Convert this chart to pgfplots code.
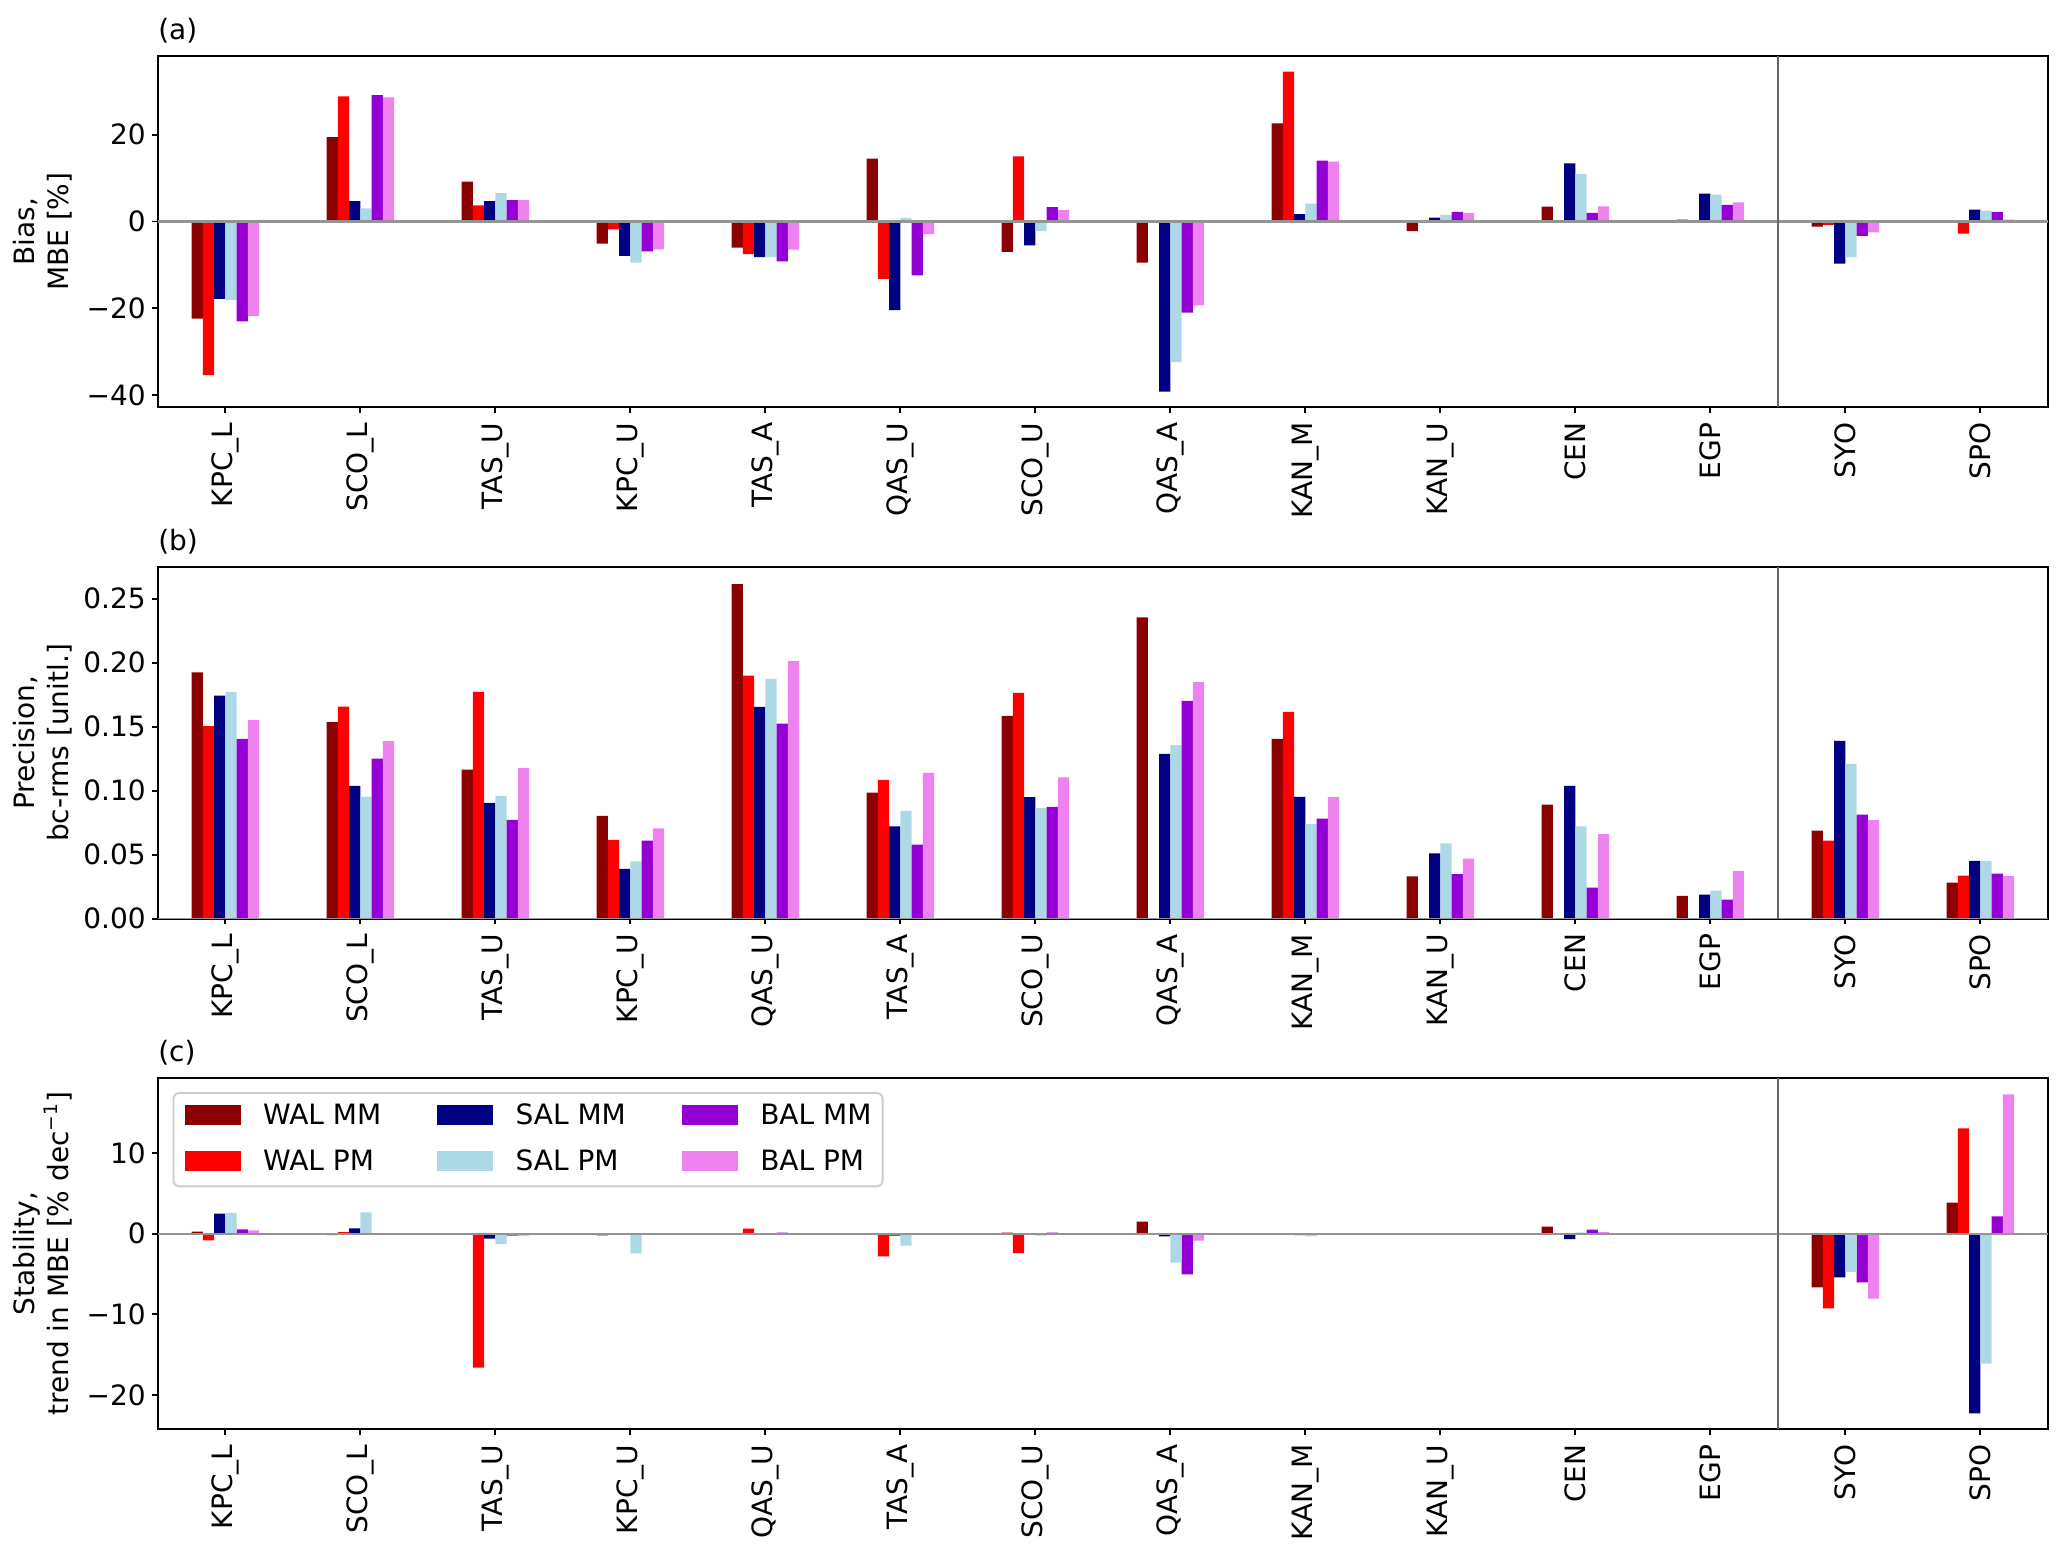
\documentclass[border=0pt,12pt]{standalone}
\usepackage{fontspec}
\setmainfont{DejaVu Sans}
\usepackage{pgfplots}
\pgfplotsset{compat=1.18}
\definecolor{wmm}{HTML}{8B0000}
\definecolor{wpm}{HTML}{FF0000}
\definecolor{smm}{HTML}{000080}
\definecolor{spm}{HTML}{ADD8E6}
\definecolor{bmm}{HTML}{9400D3}
\definecolor{bpm}{HTML}{EE82EE}
\pgfplotsset{
  panel/.style={
    scale only axis, width=810pt, height=150.56pt,
    xmin=-0.5, xmax=13.5, enlargelimits=false,
    xtick={0,...,13},
    xticklabel style={rotate=90, anchor=east},
    yticklabel style={inner xsep=2.6pt},
    tick align=outside, xtick pos=bottom, ytick pos=left,
    major tick length=2.4pt,
    tick style={black, line width=0.8pt},
    axis line style={line width=0.8pt},
    clip=true,
  },
  b0/.style={ybar, bar width=0.083333, bar shift=-0.208333, fill=wmm, draw=none},
  b1/.style={ybar, bar width=0.083333, bar shift=-0.125, fill=wpm, draw=none},
  b2/.style={ybar, bar width=0.083333, bar shift=-0.041667, fill=smm, draw=none},
  b3/.style={ybar, bar width=0.083333, bar shift=0.041667, fill=spm, draw=none},
  b4/.style={ybar, bar width=0.083333, bar shift=0.125, fill=bmm, draw=none},
  b5/.style={ybar, bar width=0.083333, bar shift=0.208333, fill=bpm, draw=none},
  zl/.style={color=black!42, line width=0.9pt, forget plot},
  sepl/.style={color=black!60, line width=0.7pt, forget plot},
}
\begin{document}
\begin{tikzpicture}
\path (0,0) rectangle (885.86pt,-667.71pt);
% ---------------- (a)
\begin{axis}[panel, name=axa, at={(67.63pt,-24pt)}, anchor=north west,
  ymin=-42.8, ymax=38.1, ytick={-40,-20,0,20}, yticklabels={−40,−20,0,20},
  xticklabels={KPC\_L,SCO\_L,TAS\_U,KPC\_U,TAS\_A,QAS\_U,SCO\_U,QAS\_A,KAN\_M,KAN\_U,CEN,EGP,SYO,SPO}]
\addplot[b0] coordinates {(0,-22.4) (1,19.4) (2,9.2) (3,-5.1) (4,-6.0) (5,14.5) (6,-7.0) (7,-9.5) (8,22.6) (9,-2.2) (10,3.4) (11,0.4) (12,-1.2) (13,-0.3)};
\addplot[b1] coordinates {(0,-35.4) (1,28.8) (2,3.7) (3,-1.8) (4,-7.5) (5,-13.2) (6,15.0) (8,34.5) (12,-0.8) (13,-2.8)};
\addplot[b2] coordinates {(0,-17.8) (1,4.7) (2,4.7) (3,-7.9) (4,-8.2) (5,-20.4) (6,-5.5) (7,-39.2) (8,1.7) (9,0.9) (10,13.4) (11,6.4) (12,-9.7) (13,2.7)};
\addplot[b3] coordinates {(0,-18.1) (1,3.0) (2,6.5) (3,-9.5) (4,-8.2) (5,0.8) (6,-2.2) (7,-32.4) (8,4.1) (9,1.5) (10,10.9) (11,6.2) (12,-8.2) (13,2.5)};
\addplot[b4] coordinates {(0,-23.0) (1,29.1) (2,4.9) (3,-6.9) (4,-9.2) (5,-12.4) (6,3.3) (7,-21.0) (8,14.0) (9,2.2) (10,2.0) (11,3.8) (12,-3.3) (13,2.2)};
\addplot[b5] coordinates {(0,-21.8) (1,28.6) (2,4.9) (3,-6.4) (4,-6.5) (5,-2.9) (6,2.6) (7,-19.3) (8,13.8) (9,1.9) (10,3.5) (11,4.4) (12,-2.5) (13,0.4)};
\addplot[zl] coordinates {(-0.5,0) (13.5,0)};
\addplot[sepl] coordinates {(11.5,-42.8) (11.5,38.1)};
\end{axis}
% ---------------- (b)
\begin{axis}[panel, name=axb, at={(67.63pt,-243.13pt)}, anchor=north west,
  ymin=0, ymax=0.2746, ytick={0,0.05,0.1,0.15,0.2,0.25}, yticklabels={0.00,0.05,0.10,0.15,0.20,0.25},
  xticklabels={KPC\_L,SCO\_L,TAS\_U,KPC\_U,QAS\_U,TAS\_A,SCO\_U,QAS\_A,KAN\_M,KAN\_U,CEN,EGP,SYO,SPO}]
\addplot[b0] coordinates {(0,.1924) (1,.1535) (2,.1165) (3,.0803) (4,.2615) (5,.0985) (6,.1585) (7,.2354) (8,.1405) (9,.0331) (10,.0892) (11,.0177) (12,.0688) (13,.0282)};
\addplot[b1] coordinates {(0,.1504) (1,.1658) (2,.1773) (3,.0615) (4,.1900) (5,.1084) (6,.1765) (8,.1616) (12,.0610) (13,.0336)};
\addplot[b2] coordinates {(0,.1744) (1,.1038) (2,.0905) (3,.0388) (4,.1655) (5,.0722) (6,.0949) (7,.1288) (8,.0952) (9,.0511) (10,.1038) (11,.0188) (12,.1389) (13,.0451)};
\addplot[b3] coordinates {(0,.1773) (1,.0954) (2,.0959) (3,.0448) (4,.1874) (5,.0842) (6,.0863) (7,.1356) (8,.0738) (9,.0589) (10,.0722) (11,.0219) (12,.1210) (13,.0451)};
\addplot[b4] coordinates {(0,.1405) (1,.1251) (2,.0772) (3,.0610) (4,.1525) (5,.0579) (6,.0873) (7,.1702) (8,.0782) (9,.0347) (10,.0242) (11,.0149) (12,.0813) (13,.0352)};
\addplot[b5] coordinates {(0,.1551) (1,.1387) (2,.1176) (3,.0706) (4,.2013) (5,.1139) (6,.1105) (7,.1848) (8,.0949) (9,.0469) (10,.0660) (11,.0373) (12,.0769) (13,.0334)};
\addplot[zl] coordinates {(-0.5,0) (13.5,0)};
\addplot[sepl] coordinates {(11.5,0) (11.5,0.2746)};
\end{axis}
% ---------------- (c)
\begin{axis}[panel, name=axc, at={(67.63pt,-462pt)}, anchor=north west,
  ymin=-24.26, ymax=19.3, ytick={-20,-10,0,10}, yticklabels={−20,−10,0,10},
  xticklabels={KPC\_L,SCO\_L,TAS\_U,KPC\_U,QAS\_U,TAS\_A,SCO\_U,QAS\_A,KAN\_M,KAN\_U,CEN,EGP,SYO,SPO},
  legend columns=3,
  legend image code/.code={\fill[#1, sharp corners] (0pt,0.2pt) rectangle (24pt,8.6pt);},
  legend style={at={(0.0078,0.960)}, anchor=north west, draw=black!20, line width=0.8pt,
    rounded corners=2.5pt, fill=white, inner sep=4.8pt, row sep=9pt,
    nodes={inner sep=0pt, anchor=base west},
    /tikz/every odd column/.append style={column sep=9.6pt},
    /tikz/every even column/.append style={column sep=24pt}}]
\addplot[b0] coordinates {(0,0.25) (1,-0.17) (2,-0.1) (3,-0.2) (4,0.08) (5,-0.04) (6,0.12) (7,1.49) (8,-0.08) (9,-0.08) (10,0.87) (11,0.0) (12,-6.65) (13,3.84)};
\addlegendentry{WAL MM}
\addplot[b2] coordinates {(0,2.48) (1,0.66) (2,-0.62) (3,-0.12) (4,0.08) (5,-0.25) (6,-0.04) (7,-0.33) (8,-0.17) (9,-0.08) (10,-0.66) (11,0.0) (12,-5.41) (13,-22.27)};
\addlegendentry{SAL MM}
\addplot[b4] coordinates {(0,0.54) (1,-0.08) (2,-0.25) (3,-0.08) (4,0.12) (5,0.04) (6,0.12) (7,-5.04) (8,-0.04) (9,-0.04) (10,0.5) (11,-0.04) (12,-6.03) (13,2.15)};
\addlegendentry{BAL MM}
\addplot[b1] coordinates {(0,-0.83) (1,0.2) (2,-16.6) (3,-0.1) (4,0.62) (5,-2.81) (6,-2.40) (8,-0.04) (12,-9.26) (13,13.06)};
\addlegendentry{WAL PM}
\addplot[b3] coordinates {(0,2.56) (1,2.64) (2,-1.28) (3,-2.44) (4,0.08) (5,-1.49) (6,-0.25) (7,-3.6) (8,-0.33) (9,-0.04) (10,0.17) (11,0.0) (12,-4.75) (13,-16.12)};
\addlegendentry{SAL PM}
\addplot[b5] coordinates {(0,0.41) (1,-0.08) (2,-0.25) (3,-0.08) (4,0.08) (5,0.04) (6,0.0) (7,-0.87) (8,-0.04) (9,-0.04) (10,0.2) (11,-0.04) (12,-8.06) (13,17.27)};
\addlegendentry{BAL PM}
\addplot[zl] coordinates {(-0.5,0) (13.5,0)};
\addplot[sepl] coordinates {(11.5,-24.26) (11.5,19.3)};
\end{axis}
% labels
\node[anchor=base west, inner sep=0pt] at ([yshift=7pt]axa.north west) {(a)};
\node[anchor=base west, inner sep=0pt] at ([yshift=7pt]axb.north west) {(b)};
\node[anchor=base west, inner sep=0pt] at ([yshift=7pt]axc.north west) {(c)};
\node[rotate=90, anchor=south, align=center, inner sep=0pt] at ([xshift=-36.7pt]axa.west) {Bias,\\MBE [\%]};
\node[rotate=90, anchor=south, align=center, inner sep=0pt] at ([xshift=-36.7pt]axb.west) {Precision,\\bc-rms [unitl.]};
\node[rotate=90, anchor=south, align=center, inner sep=0pt] at ([xshift=-36.7pt]axc.west) {Stability,\\trend in MBE [\% dec\textsuperscript{−1}]};
\end{tikzpicture}
\end{document}
